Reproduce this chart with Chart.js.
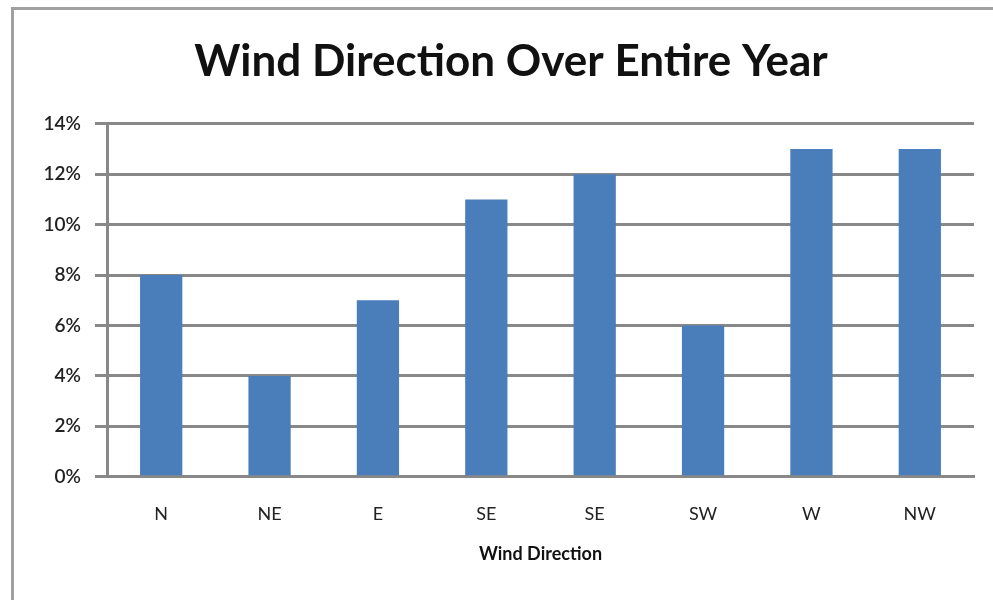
<!DOCTYPE html>
<html>
<head>
<meta charset="utf-8">
<script src="https://cdn.jsdelivr.net/npm/chart.js@4.4.1/dist/chart.umd.min.js"></script>
<style>
  html, body { margin: 0; padding: 0; background: #ffffff; overflow: hidden; }
  #wrap { position: relative; width: 993px; height: 600px; overflow: hidden; }
  .edge { position: absolute; background: #a0a0a0; }
  #edgeTop { left: 11px; top: 7px; width: 982px; height: 3px; }
  #edgeLeft { left: 11px; top: 7px; width: 3px; height: 593px; }
  #c { position: absolute; left: 0; top: 0; }
</style>
</head>
<body>
<div id="wrap">
  <div class="edge" id="edgeTop"></div>
  <div class="edge" id="edgeLeft"></div>
  <canvas id="c" width="993" height="600"></canvas>
</div>
<script>
// Share of hours per wind direction across the year
const directions = ['N', 'NE', 'E', 'SE', 'SE', 'SW', 'W', 'NW'];
const shares = [8, 4, 7, 11, 12, 6, 13, 13];
const yTicks = [0, 2, 4, 6, 8, 10, 12, 14];

const chartTitle = 'Wind Direction Over Entire Year';
const xTitle = 'Wind Direction';

const FONT = 'Lato, "Open Sans", sans-serif';

// Centre the title over the plot plus the axis labels rather than the full canvas
const titleOffset = {
  id: 'titleOffset',
  beforeDraw(chart) {
    if (chart.titleBlock) chart.titleBlock.left = 48;
  }
};

new Chart(document.getElementById('c'), {
  type: 'bar',
  data: {
    labels: directions,
    datasets: [{
      data: shares,
      backgroundColor: '#4a7ebb',
      borderWidth: 0,
      categoryPercentage: 1,
      barPercentage: 0.39
    }]
  },
  plugins: [titleOffset],
  options: {
    responsive: false,
    animation: false,
    layout: { padding: { left: 0, right: 19, top: 0, bottom: 35 } },
    plugins: {
      legend: { display: false },
      tooltip: { enabled: false },
      title: {
        display: true,
        text: chartTitle,
        color: '#111',
        font: { family: FONT, size: 44, weight: 'bold' },
        padding: { top: 35, bottom: 36 }
      }
    },
    scales: {
      x: {
        grid: { display: false, drawTicks: false },
        border: { display: true, color: '#888888', width: 3 },
        ticks: {
          color: '#222',
          font: { family: FONT, size: 18 },
          padding: 27
        },
        title: {
          display: true,
          text: xTitle,
          color: '#111',
          font: { family: FONT, size: 18, weight: 'bold' },
          padding: { top: -9, bottom: 0 }
        }
      },
      y: {
        min: 0,
        max: 14,
        afterFit: (scale) => { scale.width = 107; },
        afterBuildTicks: (scale) => { scale.ticks = yTicks.map(v => ({ value: v })); },
        grid: {
          color: '#888888',
          lineWidth: 3,
          drawTicks: true,
          tickLength: 12
        },
        border: { display: true, color: '#888888', width: 3 },
        ticks: {
          color: '#222',
          font: { family: FONT, size: 19, weight: '600' },
          padding: 14,
          callback: (v) => v + '%'
        }
      }
    }
  }
});
</script>
</body>
</html>
